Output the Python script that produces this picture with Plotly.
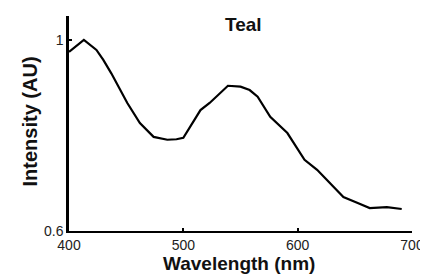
import plotly.graph_objects as go

wavelength = [400, 413, 424, 430, 437, 445, 451, 462, 474, 486, 494, 500, 506, 515,
              523, 531, 539, 550, 558, 565, 576, 591, 606, 617, 628, 640, 652, 663,
              678, 691]
intensity = [0.975, 1.0, 0.979, 0.958, 0.93, 0.895, 0.868, 0.826, 0.797, 0.791, 0.792,
             0.795, 0.818, 0.853, 0.868, 0.886, 0.904, 0.902, 0.895, 0.881, 0.839,
             0.805, 0.749, 0.728, 0.70, 0.671, 0.659, 0.648, 0.650, 0.646]
x_ticks = [400, 500, 600, 700]
x_ticktext = ["400", "500", "600", "700"]
y_ticks = [0.6, 1.0]
y_ticktext = ["0.6", "1"]

fig = go.Figure()
fig.add_trace(go.Scatter(x=wavelength, y=intensity, mode="lines",
                         line=dict(color="black", width=2.2), showlegend=False))

font = "Liberation Sans, Arial, sans-serif"
# page body has an 8px margin, so the figure is 8px smaller and offset
fig.update_layout(
    width=420, height=266,
    margin=dict(l=61, r=16, t=8, b=43, autoexpand=False),
    paper_bgcolor="white", plot_bgcolor="white",
    font=dict(family=font, color="black"),
    xaxis=dict(range=[400, 700], tickvals=x_ticks, ticktext=x_ticktext,
               showline=True, linecolor="black", linewidth=2, showgrid=False,
               zeroline=False, ticks="inside", ticklen=3, tickwidth=1.5,
               tickcolor="black", tickfont=dict(size=14, family=font, color="#222")),
    yaxis=dict(range=[0.6, 1.05], tickvals=y_ticks, ticktext=y_ticktext,
               showline=True, linecolor="black", linewidth=2.5, showgrid=False,
               zeroline=False, ticks="inside", ticklen=3, tickwidth=1.5,
               tickcolor="black", tickfont=dict(size=14, family=font, color="#222")),
    annotations=[
        dict(text="<b>Teal</b>", xref="paper", yref="paper", x=0.51, y=0.96,
             xanchor="center", yanchor="middle", showarrow=False,
             font=dict(size=19, family=font, color="#111")),
        dict(text="<b>Wavelength (nm)</b>", xref="paper", yref="paper", x=0.497, y=-0.15,
             xanchor="center", yanchor="middle", showarrow=False,
             font=dict(size=19, family=font, color="#111")),
        dict(text="<b>Intensity (AU)</b>", xref="paper", yref="paper", x=-0.114, y=0.509,
             xanchor="center", yanchor="middle", showarrow=False, textangle=-90,
             font=dict(size=20, family=font, color="#111")),
    ],
)

fig.write_html("out.html")
